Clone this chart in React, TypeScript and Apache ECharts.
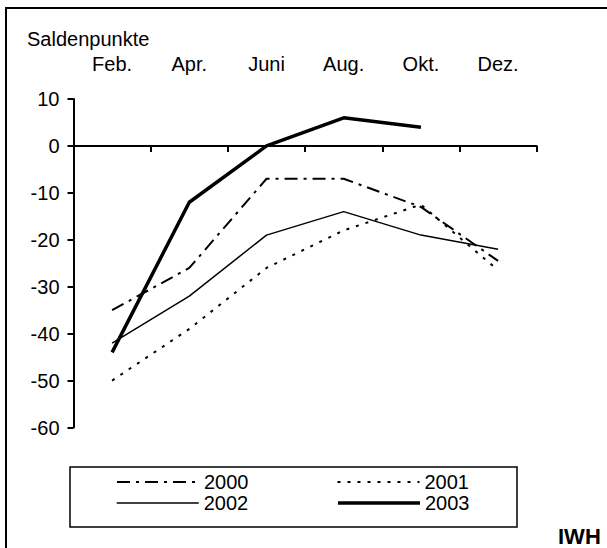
import React, { useEffect, useRef } from "react";
import * as echarts from "echarts";

const categories = ["Feb.", "Apr.", "Juni", "Aug.", "Okt.", "Dez."];
const s2000 = [-35, -26, -7, -7, -13, -24.5];
const s2001 = [-50, -39, -26, -18, -12.5, -26.5];
const s2002 = [-42, -32, -19, -14, -19, -22];
const s2003 = [-44, -12, 0, 6, 4, null];
const yTicks = { min: -60, max: 10, interval: 10 };

const FONT = "'Liberation Sans', Arial, sans-serif";

const styles: Record<string, { width: number; type: any }> = {
  "2000": { width: 2, type: [13, 6, 3, 6] },
  "2001": { width: 2, type: [3, 7] },
  "2002": { width: 1.5, type: "solid" },
  "2003": { width: 3.5, type: "solid" },
};

export default function App() {
  const ref = useRef<HTMLDivElement>(null);
  useEffect(() => {
    if (!ref.current) return;
    const chart = echarts.init(ref.current, undefined, { renderer: "svg" });
    const mk = (name: string, data: (number | null)[]) => ({
      name,
      type: "line",
      data,
      symbol: "none",
      showSymbol: false,
      xAxisIndex: 0,
      lineStyle: { color: "#000", width: styles[name].width, type: styles[name].type },
      itemStyle: { color: "#000" },
      emphasis: { disabled: true },
    });
    const legendItem = (name: string) => ({
      name,
      lineStyle: { color: "#000", width: styles[name].width, type: styles[name].type },
      itemStyle: { opacity: 0 },
    });
    const legendBase = {
      left: 116,
      padding: 0,
      itemWidth: 82,
      itemHeight: 14,
      itemGap: 88,
      selectedMode: false,
      itemStyle: { opacity: 0 },
      textStyle: { fontSize: 20, fontFamily: FONT, color: "#000", width: 50 },
    };
    chart.setOption({
      animation: false,
      backgroundColor: "#fff",
      textStyle: { fontFamily: FONT, color: "#000" },
      title: {
        text: "Saldenpunkte",
        left: 27,
        top: 29,
        padding: 0,
        textStyle: { fontFamily: FONT, fontSize: 20, fontWeight: "normal", color: "#000" },
      },
      grid: { left: 73.5, right: 70.3, top: 99, bottom: 120.5, containLabel: false },
      xAxis: [
        {
          type: "category",
          data: categories,
          boundaryGap: true,
          axisLine: { onZero: true, lineStyle: { color: "#000", width: 2 } },
          axisTick: { show: true, length: 6, lineStyle: { color: "#000", width: 2 } },
          axisLabel: { show: false },
          splitLine: { show: false },
        },
        {
          type: "category",
          data: categories,
          position: "top",
          boundaryGap: true,
          axisLine: { show: false },
          axisTick: { show: false },
          axisLabel: { show: true, margin: 25, fontSize: 20, fontFamily: FONT, color: "#000" },
          splitLine: { show: false },
        },
      ],
      yAxis: {
        type: "value",
        min: yTicks.min,
        max: yTicks.max,
        interval: yTicks.interval,
        axisLine: { show: true, onZero: false, lineStyle: { color: "#000", width: 2 } },
        axisTick: { show: true, length: 6, lineStyle: { color: "#000", width: 2 } },
        axisLabel: { margin: 14, fontSize: 20, fontFamily: FONT, color: "#000" },
        splitLine: { show: false },
      },
      legend: [
        { ...legendBase, top: 472, data: [legendItem("2000"), legendItem("2001")] },
        { ...legendBase, top: 493, data: [legendItem("2002"), legendItem("2003")] },
      ],
      graphic: [
        {
          type: "rect",
          shape: { x: 6, y: 8, width: 700, height: 700 },
          style: { fill: "none", stroke: "#000", lineWidth: 2 },
          silent: true,
          z: -1,
        },
        {
          type: "rect",
          shape: { x: 70, y: 467, width: 447, height: 60 },
          style: { fill: "none", stroke: "#000", lineWidth: 1.5 },
          silent: true,
          z: -1,
        },
        {
          type: "text",
          left: 558,
          top: 525,
          style: { text: "IWH", font: `bold 22px ${FONT}`, fill: "#000" },
          silent: true,
        },
      ],
      series: [mk("2000", s2000), mk("2001", s2001), mk("2002", s2002), mk("2003", s2003)],
    });
    return () => chart.dispose();
  }, []);
  return (
    <div
      ref={ref}
      style={{ position: "fixed", left: 0, top: 0, width: 607, height: 548, background: "#fff" }}
    />
  );
}
